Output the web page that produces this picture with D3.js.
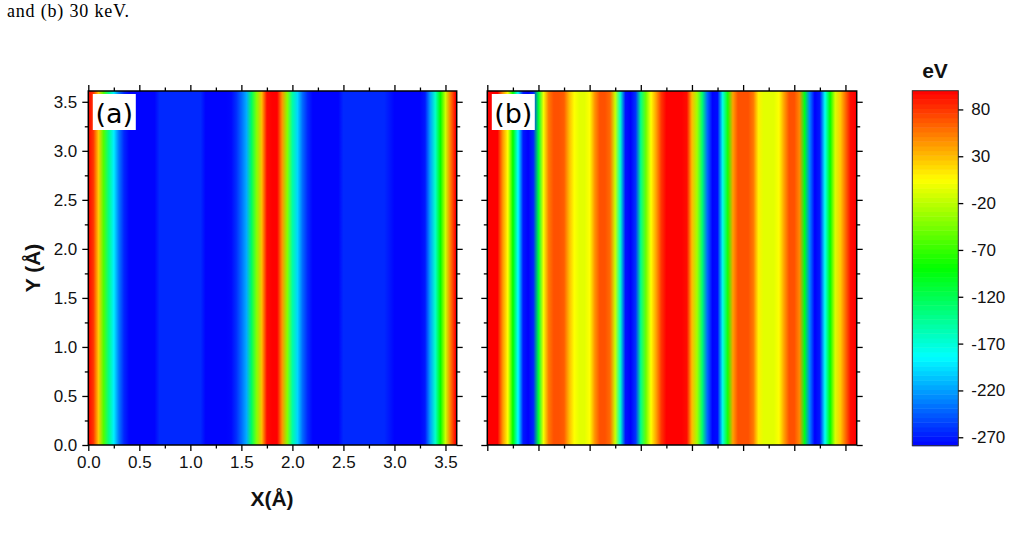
<!DOCTYPE html>
<html lang="en">
<head>
    <meta charset="UTF-8"/>
    <title>Potential maps (a) and (b)</title>
    <script src="https://d3js.org/d3.v7.min.js"></script>
    <style>
        body { margin: 0; background: #fff; }
        text { font-family: "Liberation Sans", Arial, sans-serif; fill: #111; }
        .tick line { stroke: #000; stroke-width: 1.3px; }
        .title { font-weight: bold; font-size: 21px; }
    </style>
</head>
<body>
<div id="chart"></div>
<script>
    // sample positions along X (Å), one value every 0.05 Å
    const xStep = 0.05;
    const xMax = 3.61;

    // potential (eV) along X, panel (a)
    const valuesA = [
        100, 80, 25, -60, -140, -190, -235, -265, -278, -278,
        -278, -278, -278, -278, -264, -264, -264, -264, -264, -264,
        -264, -264, -264, -278, -278, -278, -278, -278, -276, -262,
        -240, -215, -125, -40, 30, 95, 100, 100, 45, -40,
        -150, -200, -240, -265, -278, -278, -278, -278, -278, -278,
        -264, -264, -264, -264, -264, -264, -264, -264, -264, -271,
        -278, -278, -278, -278, -278, -278, -270, -220, -165, -90,
        -15, 55, 100
    ];

    // potential (eV) along X, panel (b)
    const valuesB = [
        100, 100, 100, 45, 5, -90, -185, -270, -279, -265,
        -110, 0, 55, 70, 70, 65, 30, 5, -5, -5,
        5, 45, 70, 70, 60, -15, -165, -272, -279, -260,
        -140, -50, 5, 40, 80, 100, 100, 100, 100, 95,
        30, -30, -130, -240, -278, -275, -175, -80, 40, 70,
        70, 70, 55, 10, -5, -5, -5, 5, 40, 70,
        70, 50, -100, -230, -279, -270, -180, -90, -10, 25,
        60, 95, 100
    ];

    const axisTicks = [0, 0.5, 1.0, 1.5, 2.0, 2.5, 3.0, 3.5];
    const minorTicks = [0.25, 0.75, 1.25, 1.75, 2.25, 2.75, 3.25];
    const barTicks = [80, 30, -20, -70, -120, -170, -220, -270];
    const barRange = [-279, 100];

    const svg = d3.select("#chart")
        .append("svg")
        .attr("width", 1029)
        .attr("height", 543);

    svg.append("rect").attr("width", 1029).attr("height", 543).attr("fill", "#fff");

    // caption fragment
    svg.append("text")
        .attr("x", 7).attr("y", 17)
        .attr("textLength", 122)
        .style("font-family", "'Liberation Serif', 'DejaVu Serif', serif")
        .style("font-size", "18px")
        .style("fill", "#000")
        .text("and (b) 30 keV.");

    // colour map: blue - cyan - green - yellow - red
    const color = d3.scaleLinear()
        .domain([-279, -184.25, -89.5, 5.25, 100])
        .range(["#0000ff", "#00ffff", "#00ff00", "#ffff00", "#ff0000"])
        .clamp(true);

    const defs = svg.append("defs");

    function styleTicks(g) {
        g.select(".domain").remove();
        g.selectAll(".tick text")
            .style("font-size", "17px")
            .style("font-family", "'Liberation Sans', Arial, sans-serif")
            .style("fill", "#111");
    }

    function drawPanel(id, values, left, right, top, bottom, label, showLabels) {
        const x = d3.scaleLinear().domain([0, xMax]).range([left, right]);
        const y = d3.scaleLinear().domain([0, xMax]).range([bottom, top]);
        const w = right - left;

        // the map only changes along X: one gradient stop per sample
        const grad = defs.append("linearGradient")
            .attr("id", id)
            .attr("gradientUnits", "userSpaceOnUse")
            .attr("x1", x(0)).attr("x2", x(xMax))
            .attr("y1", 0).attr("y2", 0);
        grad.selectAll("stop")
            .data(values)
            .join("stop")
            .attr("offset", (d, i) => Math.min(1, (x(i * xStep) - left) / w))
            .attr("stop-color", d => color(d));

        svg.append("rect")
            .attr("x", left).attr("y", top)
            .attr("width", w).attr("height", bottom - top)
            .attr("fill", "url(#" + id + ")");

        const fmt = showLabels ? d3.format(".1f") : () => "";

        // major + minor ticks on all four sides
        const sides = [
            [d3.axisBottom(x), "translate(0," + bottom + ")", true],
            [d3.axisTop(x), "translate(0," + top + ")", false],
            [d3.axisLeft(y), "translate(" + left + ",0)", true],
            [d3.axisRight(y), "translate(" + right + ",0)", false]
        ];
        sides.forEach(([ax, tr, lab]) => {
            svg.append("g").attr("transform", tr)
                .call(ax.tickValues(axisTicks).tickSize(6).tickPadding(lab ? 5 : 3)
                    .tickFormat(lab ? fmt : () => ""))
                .call(styleTicks);
            svg.append("g").attr("transform", tr)
                .call(ax.tickValues(minorTicks).tickSize(3.5).tickFormat(() => ""))
                .call(styleTicks);
        });

        svg.append("rect")
            .attr("x", left).attr("y", top)
            .attr("width", w).attr("height", bottom - top)
            .attr("fill", "none")
            .attr("stroke", "#000")
            .attr("stroke-width", 1.5);

        // panel tag
        svg.append("rect")
            .attr("x", left + 4.5).attr("y", top + 3)
            .attr("width", 43).attr("height", 36)
            .attr("fill", "#fff");
        svg.append("text")
            .attr("x", left + 26).attr("y", top + 32)
            .attr("text-anchor", "middle")
            .style("font-family", "'DejaVu Sans', sans-serif")
            .style("font-size", "27px")
            .style("fill", "#000")
            .text(label);
    }

    drawPanel("gradA", valuesA, 88.3, 456.7, 91, 445, "(a)", true);
    drawPanel("gradB", valuesB, 487.3, 856.7, 91, 445, "(b)", false);

    // axis titles
    svg.append("text")
        .attr("class", "title")
        .attr("x", 272).attr("y", 506)
        .attr("text-anchor", "middle")
        .text("X(Å)");
    svg.append("text")
        .attr("class", "title")
        .attr("transform", "translate(40,268) rotate(-90)")
        .attr("text-anchor", "middle")
        .text("Y (Å)");

    // colour bar
    const barX = 912.3, barW = 46;
    const cb = d3.scaleLinear().domain(barRange).range([445.7, 90.7]);
    const levels = d3.range(barRange[0], barRange[1], 5);

    svg.append("g")
        .selectAll("rect")
        .data(levels)
        .join("rect")
        .attr("x", barX)
        .attr("y", d => cb(Math.min(d + 5, barRange[1])))
        .attr("width", barW)
        .attr("height", d => cb(d) - cb(Math.min(d + 5, barRange[1])) + 0.5)
        .attr("fill", d => color(d + 2.5));

    svg.append("rect")
        .attr("x", barX).attr("y", cb(barRange[1]))
        .attr("width", barW).attr("height", cb(barRange[0]) - cb(barRange[1]))
        .attr("fill", "none")
        .attr("stroke", "#333")
        .attr("stroke-width", 1);

    svg.append("g")
        .attr("transform", "translate(" + (barX + barW) + ",0)")
        .call(d3.axisRight(cb).tickValues(barTicks).tickSize(5).tickPadding(8)
            .tickFormat(d => String(d)))
        .call(styleTicks);

    svg.append("text")
        .attr("class", "title")
        .attr("x", 935).attr("y", 78)
        .attr("text-anchor", "middle")
        .text("eV");
</script>
</body>
</html>
